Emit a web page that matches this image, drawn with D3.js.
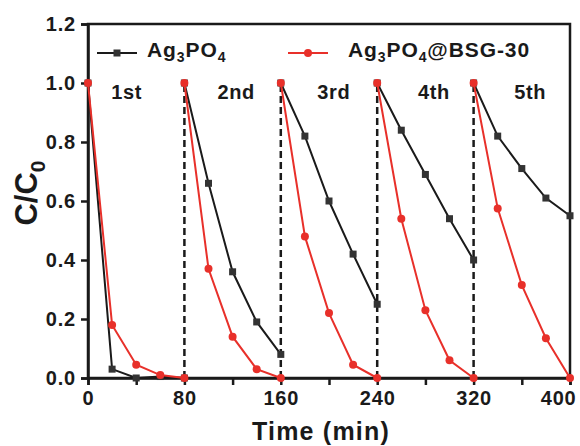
<!DOCTYPE html>
<html>
<head>
<meta charset="utf-8">
<script src="https://d3js.org/d3.v7.min.js"></script>
<style>
  body { margin: 0; background: #fff; }
  text { font-family: "Liberation Sans", Arial, sans-serif; font-weight: bold; }
</style>
</head>
<body>
<div id="chart"></div>
<script>
  // time points inside one cycle, and where each cycle starts
  var cycleStarts = [0, 80, 160, 240, 320];
  var stepTimes = [0, 20, 40, 60, 80];
  var cycleNames = ["1st", "2nd", "3rd", "4th", "5th"];
  var labelTimes = [32, 123, 204, 287, 367];

  var agValues = [
    [1.0, 0.03, 0.0, 0.005, 0.0],
    [1.0, 0.66, 0.36, 0.19, 0.08],
    [1.0, 0.82, 0.60, 0.42, 0.25],
    [1.0, 0.84, 0.69, 0.54, 0.40],
    [1.0, 0.82, 0.71, 0.61, 0.55]
  ];
  var bsgValues = [
    [1.0, 0.18, 0.045, 0.01, 0.0],
    [1.0, 0.37, 0.14, 0.03, 0.0],
    [1.0, 0.48, 0.22, 0.045, 0.0],
    [1.0, 0.54, 0.23, 0.06, 0.0],
    [1.0, 0.575, 0.315, 0.135, 0.0]
  ];
  var dashTimes = [80, 160, 240, 320];
  var xTicks = [0, 40, 80, 120, 160, 200, 240, 280, 320, 360, 400];
  var xLabels = [0, 80, 160, 240, 320, 400];
  var yTicks = [0, 0.2, 0.4, 0.6, 0.8, 1.0, 1.2];

  var W = 580, H = 446;
  var red = "#e8302a", black = "#1a1a1a";

  var svg = d3.select("#chart").append("svg")
              .attr("width", W).attr("height", H);

  var x = d3.scaleLinear().domain([0, 400]).range([88, 570]);
  var y = d3.scaleLinear().domain([0, 1.2]).range([378, 24]);

  // frame
  svg.append("rect")
     .attr("x", x(0)).attr("y", y(1.2))
     .attr("width", x(400) - x(0)).attr("height", y(0) - y(1.2))
     .attr("fill", "none").attr("stroke", black).attr("stroke-width", 2.5);

  // axes
  var xAxis = svg.append("g")
                 .attr("transform", "translate(0," + y(0) + ")")
                 .call(d3.axisBottom(x).tickValues(xTicks).tickSize(7).tickPadding(6)
                         .tickFormat(function(d){ return xLabels.indexOf(d) >= 0 ? d : ""; }));
  var yAxis = svg.append("g")
                 .attr("transform", "translate(" + x(0) + ",0)")
                 .call(d3.axisLeft(y).tickValues(yTicks).tickSize(7).tickPadding(5)
                         .tickFormat(d3.format(".1f")));
  [xAxis, yAxis].forEach(function(g){
    g.select(".domain").attr("stroke", black).attr("stroke-width", 2.5);
    g.selectAll(".tick line").attr("stroke", black).attr("stroke-width", 2.5);
    g.selectAll(".tick text").attr("fill", black)
     .style("font-size", "20px").style("font-family", "Liberation Sans, Arial, sans-serif")
     .style("font-weight", "bold").style("letter-spacing", "0.8px");
  });
  // last label sits inside the page edge
  xAxis.selectAll(".tick text").filter(function(d){ return d === 400; })
       .attr("text-anchor", "end").attr("x", 6);

  // axis titles
  svg.append("text")
     .attr("x", 321).attr("y", 440)
     .attr("text-anchor", "middle")
     .attr("font-size", 25).attr("letter-spacing", 1.2).attr("fill", black)
     .text("Time (min)");

  var yt = svg.append("text")
              .attr("transform", "translate(37,193) rotate(-90)")
              .attr("text-anchor", "middle")
              .attr("font-size", 31).attr("fill", black);
  yt.append("tspan").text("C/C");
  yt.append("tspan").attr("font-size", 21).attr("dy", 8).text("0");

  // dashed separators
  svg.selectAll(".sep").data(dashTimes).enter().append("line")
     .attr("x1", function(d){ return x(d); }).attr("x2", function(d){ return x(d); })
     .attr("y1", y(0)).attr("y2", y(1.0))
     .attr("stroke", black).attr("stroke-width", 2.5)
     .attr("stroke-dasharray", "7,4");

  var line = d3.line()
               .x(function(d){ return x(d[0]); })
               .y(function(d){ return y(d[1]); });

  function pts(values, c) {
    return values.map(function(v, i){ return [cycleStarts[c] + stepTimes[i], v]; });
  }

  // Ag3PO4 series
  agValues.forEach(function(vals, c){
    var p = pts(vals, c);
    svg.append("path").attr("d", line(p))
       .attr("fill", "none").attr("stroke", black).attr("stroke-width", 2);
    svg.selectAll(null).data(p).enter().append("rect")
       .attr("x", function(d){ return x(d[0]) - 3.5; })
       .attr("y", function(d){ return y(d[1]) - 3.5; })
       .attr("width", 7).attr("height", 7)
       .attr("fill", "#333");
  });

  // Ag3PO4@BSG-30 series
  bsgValues.forEach(function(vals, c){
    var p = pts(vals, c);
    svg.append("path").attr("d", line(p))
       .attr("fill", "none").attr("stroke", red).attr("stroke-width", 2);
    svg.selectAll(null).data(p).enter().append("circle")
       .attr("cx", function(d){ return x(d[0]); })
       .attr("cy", function(d){ return y(d[1]); })
       .attr("r", 4)
       .attr("fill", red);
  });

  // cycle labels
  svg.selectAll(".cyc").data(cycleNames).enter().append("text")
     .attr("x", function(d, i){ return x(labelTimes[i]); })
     .attr("y", 99)
     .attr("text-anchor", "middle")
     .attr("font-size", 20).attr("letter-spacing", 0.6).attr("fill", black)
     .text(function(d){ return d; });

  // legend
  function chem(t, suffix) {
    t.append("tspan").text("Ag");
    t.append("tspan").attr("font-size", 14).attr("dy", 5).text("3");
    t.append("tspan").attr("dy", -5).text("PO");
    t.append("tspan").attr("font-size", 14).attr("dy", 5).text("4");
    if (suffix) t.append("tspan").attr("dy", -5).text(suffix);
  }

  svg.append("line").attr("x1", 97).attr("x2", 137).attr("y1", 53).attr("y2", 53)
     .attr("stroke", black).attr("stroke-width", 2);
  svg.append("rect").attr("x", 113.5).attr("y", 49.5).attr("width", 7).attr("height", 7)
     .attr("fill", "#333");
  chem(svg.append("text").attr("x", 147).attr("y", 57).attr("font-size", 21)
          .attr("letter-spacing", 0.9).attr("fill", black));

  svg.append("line").attr("x1", 288).attr("x2", 328).attr("y1", 53).attr("y2", 53)
     .attr("stroke", red).attr("stroke-width", 2);
  svg.append("circle").attr("cx", 308).attr("cy", 53).attr("r", 4).attr("fill", red);
  chem(svg.append("text").attr("x", 348).attr("y", 57).attr("font-size", 21)
          .attr("letter-spacing", 0.9).attr("fill", black), "@BSG-30");
</script>
</body>
</html>
